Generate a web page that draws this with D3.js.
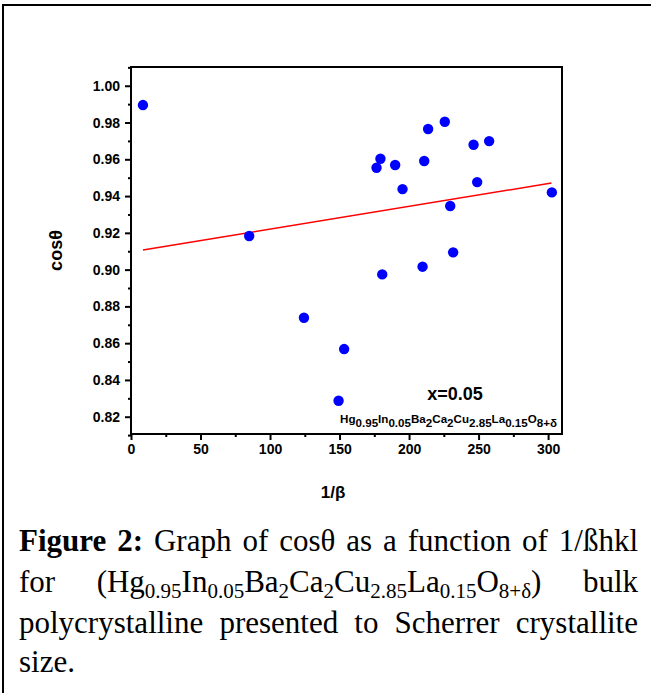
<!DOCTYPE html>
<html>
<head>
<meta charset="utf-8">
<script src="https://cdn.jsdelivr.net/npm/d3@7"></script>
<style>
  html, body { margin: 0; padding: 0; background: #fff; }
  svg { display: block; }
</style>
</head>
<body>
<script>
// ---- data ----
const invBeta = [8.6, 85, 124.4, 153.3, 149.3, 180.7, 209.7, 231.7, 176.6, 179.4, 190.0, 195.3, 210.9, 213.7, 225.7, 229.6, 246.4, 257.6, 249.0, 302.7];
const cosTheta = [0.9895, 0.9183, 0.8738, 0.8568, 0.8287, 0.8974, 0.9016, 0.9094, 0.9554, 0.9603, 0.9569, 0.9438, 0.9591, 0.9765, 0.9804, 0.9346, 0.9679, 0.9699, 0.9476, 0.9420];
const fitX = [8.6, 302.4];
const fitY = [0.9107, 0.9471];
const xMajorTicks = [0, 50, 100, 150, 200, 250, 300];
const xMinorTicks = [25, 75, 125, 175, 225, 275];
const yMajorTicks = [0.82, 0.84, 0.86, 0.88, 0.90, 0.92, 0.94, 0.96, 0.98, 1.00];
const yMinorTicks = [0.81, 0.83, 0.85, 0.87, 0.89, 0.91, 0.93, 0.95, 0.97, 0.99, 1.01];
const xDomain = [0, 310];
const yDomain = [0.8106, 1.0102];
const xLabel = "1/β";
const yLabel = "cosθ";
const annotation = "x=0.05";
const formula = [["Hg", false], ["0.95", true], ["In", false], ["0.05", true], ["Ba", false], ["2", true], ["Ca", false], ["2", true], ["Cu", false], ["2.85", true], ["La", false], ["0.15", true], ["O", false], ["8+δ", true]];
const captionLines = [
  [[["Figure", "b"]], [["2:", "b"]], [["Graph", ""]], [["of", ""]], [["cosθ", ""]], [["as", ""]], [["a", ""]], [["function", ""]], [["of", ""]], [["1/ßhkl", ""]]],
  [[["for", ""]], [["(Hg", ""], ["0.95", "s"], ["In", ""], ["0.05", "s"], ["Ba", ""], ["2", "s"], ["Ca", ""], ["2", "s"], ["Cu", ""], ["2.85", "s"], ["La", ""], ["0.15", "s"], ["O", ""], ["8+δ", "s"], [")", ""]], [["bulk", ""]]],
  [[["polycrystalline", ""]], [["presented", ""]], [["to", ""]], [["Scherrer", ""]], [["crystallite", ""]]],
  [[["size.", ""]]]
];

// ---- layout ----
const W = 651, H = 693;
const plot = { left: 131, top: 67, right: 562, bottom: 434 };
const sans = "'Liberation Sans', Arial, sans-serif";
const serif = "'Liberation Serif', 'Times New Roman', serif";

const svg = d3.select("body").append("svg").attr("width", W).attr("height", H);

// outer figure frame
svg.append("rect").attr("x", 3).attr("y", 5).attr("width", 700).attr("height", 750)
  .attr("fill", "none").attr("stroke", "#000").attr("stroke-width", 2);

const x = d3.scaleLinear().domain(xDomain).range([plot.left, plot.right]);
const y = d3.scaleLinear().domain(yDomain).range([plot.bottom, plot.top]);

// axes
const fmtY = d3.format(".2f");
const gx = svg.append("g").attr("transform", `translate(0,${plot.bottom})`)
  .call(d3.axisBottom(x).tickValues(xMajorTicks).tickSize(6).tickPadding(4).tickFormat(d3.format("d")));
const gxm = svg.append("g").attr("transform", `translate(0,${plot.bottom})`)
  .call(d3.axisBottom(x).tickValues(xMinorTicks).tickSize(3).tickFormat(""));
const gy = svg.append("g").attr("transform", `translate(${plot.left},0)`)
  .call(d3.axisLeft(y).tickValues(yMajorTicks).tickSize(6).tickPadding(5).tickFormat(fmtY));
const gym = svg.append("g").attr("transform", `translate(${plot.left},0)`)
  .call(d3.axisLeft(y).tickValues(yMinorTicks).tickSize(3).tickFormat(""));

[gx, gxm, gy, gym].forEach(g => {
  g.select(".domain").remove();
  g.selectAll(".tick line").attr("stroke", "#000").attr("stroke-width", 2);
  g.selectAll(".tick text").attr("fill", "#000")
    .style("font-family", sans).style("font-size", "14px").style("font-weight", "bold");
});

// plot box
svg.append("rect").attr("x", plot.left).attr("y", plot.top)
  .attr("width", plot.right - plot.left).attr("height", plot.bottom - plot.top)
  .attr("fill", "none").attr("stroke", "#000").attr("stroke-width", 2);

// fit line
svg.append("line")
  .attr("x1", x(fitX[0])).attr("y1", y(fitY[0]))
  .attr("x2", x(fitX[1])).attr("y2", y(fitY[1]))
  .attr("stroke", "#ff0000").attr("stroke-width", 1.5);

// points
svg.append("g").selectAll("circle").data(invBeta.map((v, i) => [v, cosTheta[i]]))
  .join("circle")
  .attr("cx", d => x(d[0])).attr("cy", d => y(d[1])).attr("r", 5.2)
  .attr("fill", "#0000ff");

// axis titles
svg.append("text").attr("x", 333).attr("y", 498).attr("text-anchor", "middle")
  .style("font-family", sans).style("font-size", "17px").style("font-weight", "bold")
  .text(xLabel);
svg.append("text").attr("transform", `translate(62,${(plot.top + plot.bottom) / 2}) rotate(-90)`)
  .attr("text-anchor", "middle")
  .style("font-family", sans).style("font-size", "18px").style("font-weight", "bold")
  .text(yLabel);

// annotations
svg.append("text").attr("x", 455).attr("y", 400).attr("text-anchor", "middle")
  .style("font-family", sans).style("font-size", "18px").style("font-weight", "bold")
  .text(annotation);
const ft = svg.append("text").attr("x", 557).attr("y", 423).attr("text-anchor", "end")
  .style("font-family", sans).style("font-size", "11.6px").style("font-weight", "bold");
formula.forEach(([t, sub], i) => {
  const prevSub = i > 0 && formula[i - 1][1];
  let dy = 0;
  if (sub && !prevSub) dy = 4;
  if (!sub && prevSub) dy = -4;
  ft.append("tspan").attr("dy", dy).text(t);
});

// caption (justified)
const capLeft = 19, capRight = 638;
const baselines = [551, 592, 633, 672];
captionLines.forEach((words, li) => {
  const g = svg.append("g");
  const nodes = words.map(segs => {
    const t = g.append("text").attr("y", baselines[li])
      .style("font-family", serif).style("font-size", "31px").attr("fill", "#000");
    let inSub = false;
    segs.forEach(([s, st]) => {
      const ts = t.append("tspan").text(s);
      if (st === "b") ts.style("font-weight", "bold");
      if (st === "s") {
        ts.style("font-size", "21px");
        if (!inSub) { ts.attr("dy", 6); inSub = true; }
      } else if (inSub) { ts.attr("dy", -6); inSub = false; }
    });
    return t;
  });
  const widths = nodes.map(n => n.node().getComputedTextLength());
  const total = d3.sum(widths);
  const justify = li < captionLines.length - 1 && nodes.length > 1;
  const gap = justify ? (capRight - capLeft - total) / (nodes.length - 1) : 7.5;
  let cx = capLeft;
  nodes.forEach((n, i) => { n.attr("x", cx); cx += widths[i] + gap; });
});
</script>
</body>
</html>
